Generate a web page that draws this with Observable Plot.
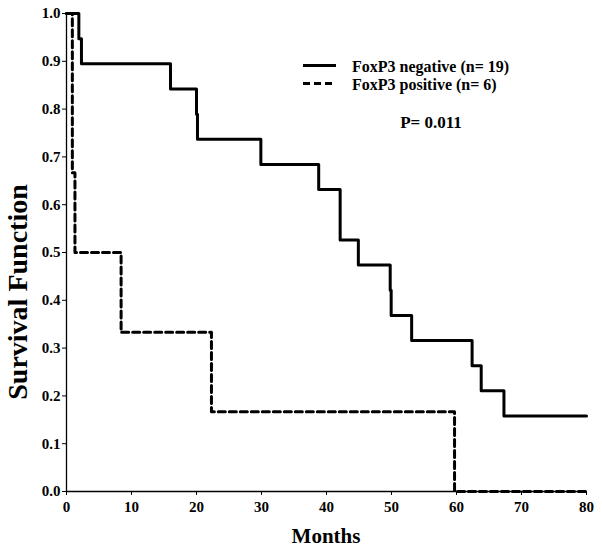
<!DOCTYPE html>
<html>
<head>
<meta charset="utf-8">
<script src="https://cdn.jsdelivr.net/npm/d3@7"></script>
<script src="https://cdn.jsdelivr.net/npm/@observablehq/plot@0.6"></script>
<style>
  html, body { margin: 0; padding: 0; background: #fff; }
  #chart { position: relative; width: 602px; height: 550px; }
</style>
</head>
<body>
<div id="chart"></div>
<script>
// Kaplan-Meier step data
const negTimes = [0, 1.9, 2.3, 16.0, 20.0, 20.15, 29.9, 38.8, 42.1, 44.9, 49.8, 49.95, 53.1, 62.4, 63.8, 67.3, 80];
const negSurv  = [1.0, 0.947, 0.895, 0.842, 0.789, 0.737, 0.684, 0.632, 0.526, 0.474, 0.421, 0.368, 0.316, 0.263, 0.211, 0.158, 0.158];
const posTimes = [0, 0.9, 1.3, 8.4, 22.3, 59.7, 80];
const posSurv  = [1.0, 0.667, 0.5, 0.333, 0.167, 0.0, 0.0];

const groups = ["FoxP3 negative (n= 19)", "FoxP3 positive (n= 6)"];
const pValueText = "P= 0.011";
const xTicks = [0, 10, 20, 30, 40, 50, 60, 70, 80];
const yTicks = [0, 0.1, 0.2, 0.3, 0.4, 0.5, 0.6, 0.7, 0.8, 0.9, 1.0];
const xLabel = "Months";
const yLabel = "Survival Function";

const neg = negTimes.map((t, i) => ({t, s: negSurv[i], g: groups[0]}));
const pos = posTimes.map((t, i) => ({t, s: posSurv[i], g: groups[1]}));

const FONT = "'Liberation Serif', 'Times New Roman', serif";

const plot = Plot.plot({
  width: 602,
  height: 550,
  marginLeft: 66,
  marginRight: 16,
  marginTop: 13,
  marginBottom: 59,
  style: {fontFamily: FONT, fontWeight: "bold", fontSize: "15px", color: "#000", background: "#fff"},
  x: {domain: [0, 80]},
  y: {domain: [0, 1]},
  marks: [
    Plot.axisY({ticks: yTicks, tickSize: 4, tickPadding: 2, tickFormat: d => d.toFixed(1), label: null, fontSize: 15, fontWeight: "bold"}),
    Plot.axisX({ticks: xTicks, tickSize: 4, tickPadding: 6, label: null, fontSize: 15, fontWeight: "bold"}),
    Plot.ruleX([0], {stroke: "#000", strokeWidth: 1.3}),
    Plot.ruleY([0], {stroke: "#000", strokeWidth: 1.5}),
    Plot.line(pos, {x: "t", y: "s", curve: "step-after", stroke: "#000", strokeWidth: 3, strokeDasharray: "7,4"}),
    Plot.line(neg, {x: "t", y: "s", curve: "step-after", stroke: "#000", strokeWidth: 3})
  ]
});

const svg = d3.select(plot);

// Axis titles
svg.append("text")
  .attr("x", 326).attr("y", 543)
  .attr("text-anchor", "middle")
  .attr("font-family", FONT).attr("font-weight", "bold").attr("font-size", 21).attr("fill", "#000")
  .text(xLabel);
svg.append("text")
  .attr("transform", "translate(27,292) rotate(-90)")
  .attr("text-anchor", "middle")
  .attr("font-family", FONT).attr("font-weight", "bold").attr("font-size", 28).attr("fill", "#000")
  .text(yLabel);

// Legend
const lg = svg.append("g")
  .attr("font-family", FONT).attr("font-weight", "bold").attr("font-size", 16)
  .attr("fill", "#000").attr("text-anchor", "start");
const rows = [{label: groups[0], dash: null, y: 65.5}, {label: groups[1], dash: "7,4", y: 83.5}];
rows.forEach(r => {
  lg.append("line").attr("x1", 303).attr("x2", 336).attr("y1", r.y).attr("y2", r.y)
    .attr("stroke", "#000").attr("stroke-width", 3).attr("stroke-dasharray", r.dash);
  lg.append("text").attr("x", 352).attr("y", r.y + 6).attr("text-anchor", "start").text(r.label);
});
lg.append("text").attr("x", 431).attr("y", 128).attr("text-anchor", "middle").attr("font-size", 17).text(pValueText);

document.getElementById("chart").appendChild(plot);
</script>
</body>
</html>
